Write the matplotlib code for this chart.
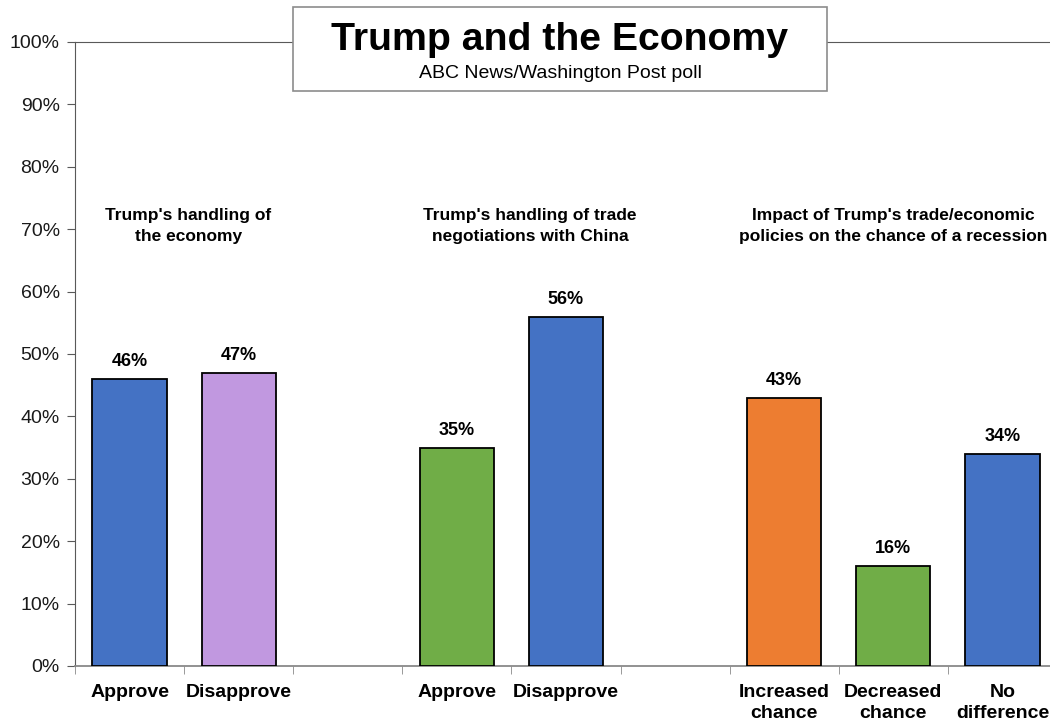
import numpy as np
import matplotlib.pyplot as plt
from matplotlib.patches import Rectangle
from matplotlib.ticker import PercentFormatter

plt.rcParams['font.family'] = ['Liberation Sans', 'DejaVu Sans']

categories = ['Approve', 'Disapprove', 'Approve', 'Disapprove',
              'Increased\nchance', 'Decreased\nchance', 'No\ndifference']
values = [46, 47, 35, 56, 43, 16, 34]
colors = ['#4472C4', '#C198E0', '#70AD47', '#4472C4', '#ED7D31', '#70AD47', '#4472C4']
groups = ["Trump's handling of\nthe economy",
          "Trump's handling of trade\nnegotiations with China",
          "Impact of Trump's trade/economic\npolicies on the chance of a recession"]

# slots, with an empty slot between groups
pos = [0, 1, 3, 4, 6, 7, 8]

W, H = 1050, 724
fig = plt.figure(figsize=(W / 100, H / 100), dpi=100)
ax = fig.add_axes([75 / W, (H - 666) / H, 982 / W, 624 / H])

ax.bar(pos, values, width=0.68, color=colors, edgecolor='black', linewidth=1.3, zorder=3)
for p, v in zip(pos, values):
    ax.text(p, v + 1.4, f'{v}%', ha='center', va='bottom', fontsize=13, fontweight='bold')

ax.set_xlim(-0.5, 8.5)
ax.set_ylim(0, 100)
ax.set_yticks(np.arange(0, 101, 10))
ax.yaxis.set_major_formatter(PercentFormatter(decimals=0))
ax.tick_params(axis='y', labelsize=14, length=6, color='#595959', pad=5, labelcolor='#1a1a1a')

ax.set_xticks(pos)
ax.set_xticklabels(categories, fontsize=14, fontweight='bold', linespacing=1.3)
ax.set_xticks(np.arange(-0.5, 8.6, 1), minor=True)
ax.tick_params(axis='x', which='major', length=0, pad=13)
ax.tick_params(axis='x', which='minor', length=6, color='#898989')

ax.spines['right'].set_visible(False)
ax.spines['left'].set_color('#595959')
ax.spines['top'].set_color('#595959')
ax.spines['bottom'].set_color('#898989')
ax.spines['bottom'].set_linewidth(1.3)

for x, g in zip([0.54, 3.67, 7.0], groups):
    ax.text(x, 70.5, g, ha='center', va='center', fontsize=12.5, fontweight='bold',
            linespacing=1.5)

box = Rectangle((293 / W, 1 - 91 / H), 534 / W, 84 / H, transform=fig.transFigure,
                facecolor='white', edgecolor='#8c8c8c', linewidth=1.2, zorder=5)
fig.patches.append(box)
fig.text(560 / W, 1 - 40 / H, 'Trump and the Economy', ha='center', va='center',
         fontsize=28.3, fontweight='bold', zorder=6)
fig.text(560 / W, 1 - 74 / H, 'ABC News/Washington Post poll', ha='center', va='center',
         fontsize=14, zorder=6)

fig.savefig('out.png', dpi=100)
